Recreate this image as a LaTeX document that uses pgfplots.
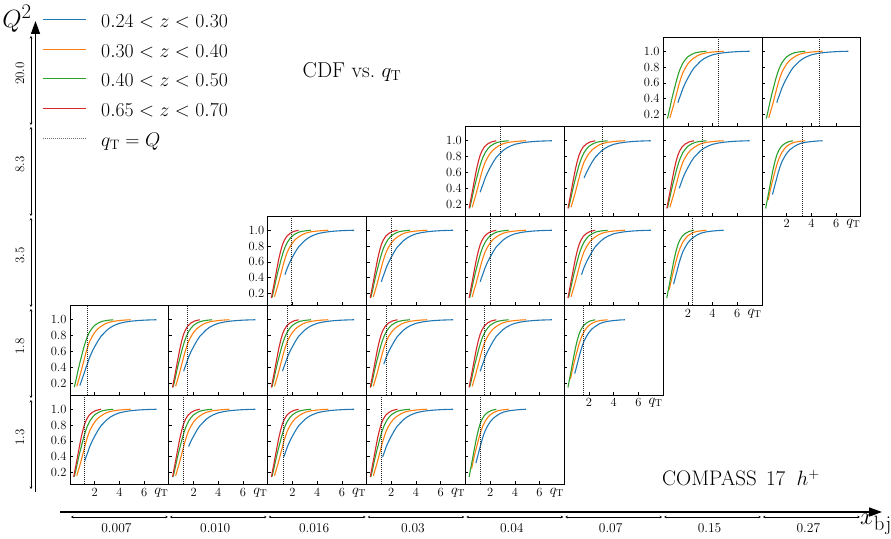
\documentclass[border=0pt]{standalone}
\usepackage{pgfplots}
\usepackage{pgfplotstable}
\pgfplotsset{compat=1.18}
\usetikzlibrary{arrows.meta}

\definecolor{cblue}{HTML}{1F77B4}
\definecolor{corange}{HTML}{FF7F0E}
\definecolor{cgreen}{HTML}{2CA02C}
\definecolor{cred}{HTML}{D62728}

% CDF curves (one shape per z bin)
\pgfplotstableread{
x y
0.60 0.10
0.80 0.17
1.00 0.26
1.20 0.35
1.30 0.40
1.40 0.44
1.60 0.53
1.80 0.60
2.00 0.66
2.25 0.73
2.50 0.79
2.75 0.83
3.00 0.87
3.30 0.905
3.60 0.93
4.00 0.955
4.50 0.972
5.00 0.983
5.50 0.99
6.00 0.995
6.50 0.998
7.00 1.00
}\tblB
\pgfplotstableread{
x y
0.40 0.09
0.55 0.16
0.70 0.24
0.85 0.32
1.00 0.41
1.15 0.50
1.30 0.59
1.45 0.665
1.60 0.73
1.80 0.79
2.00 0.84
2.25 0.885
2.50 0.915
2.80 0.945
3.10 0.965
3.50 0.98
4.00 0.99
4.50 0.997
4.90 1.00
}\tblO
\pgfplotstableread{
x y
0.25 0.09
0.35 0.15
0.50 0.25
0.65 0.36
0.80 0.46
0.95 0.55
1.10 0.64
1.25 0.72
1.40 0.785
1.60 0.85
1.80 0.895
2.00 0.93
2.30 0.96
2.60 0.98
3.00 0.992
3.50 1.00
}\tblG
\pgfplotstableread{
x y
0.22 0.09
0.30 0.145
0.40 0.23
0.50 0.31
0.62 0.41
0.75 0.52
0.90 0.64
1.05 0.74
1.20 0.82
1.35 0.875
1.55 0.925
1.80 0.96
2.10 0.985
2.50 1.00
}\tblR

\pgfplotsset{
  panel/.style={
    width=98.85pt, height=89.5pt, scale only axis, anchor=south west,
    xmin=0, xmax=8, ymin=0.05, ymax=1.18,
    xtick={2,4,6}, ytick={0.2,0.4,0.6,0.8,1.0},
    xticklabels={}, yticklabels={},
    tick align=inside, xtick pos=bottom, ytick pos=left,
    major tick length=3pt,
    tick style={black, line width=0.6pt},
    axis line style={line width=0.9pt},
    tick label style={font=\fontsize{12.5}{12.5}\selectfont},
    every axis plot/.append style={line width=1.1pt},
  },
  showx/.style={xticklabels={2,4,6},
    extra x ticks={7.4},
    extra x tick labels={{\fontsize{14.4}{14.4}\selectfont$q_{\mathrm{T}}$}},
    extra x tick style={major tick length=0pt}},
  showy/.style={yticklabels={0.2,0.4,0.6,0.8,1.0}},
  qline/.style={black!85, line width=0.8pt, dash pattern=on 1pt off 1pt},
}
\tikzset{legtext/.style={anchor=base west, inner sep=0pt,
    font=\fontsize{17.28}{17.28}\selectfont, scale=1.14}}

% all four z bins
\newcommand{\curvesF}[1]{%
  \addplot[cblue, restrict x to domain=#1:10] table {\tblB};
  \addplot[corange, restrict x to domain=0.5:10] table {\tblO};
  \addplot[cgreen, restrict x to domain=0.3:10] table {\tblG};
  \addplot[cred, restrict x to domain=0.28:10] table {\tblR};
}
% no red bin
\newcommand{\curvesN}[1]{%
  \addplot[cblue, restrict x to domain=#1:10] table {\tblB};
  \addplot[corange, restrict x to domain=0.5:10] table {\tblO};
  \addplot[cgreen, restrict x to domain=0.3:10] table {\tblG};
}
% three bins, shorter tails
\newcommand{\curvesS}[1]{%
  \addplot[cblue, restrict x to domain=#1:10] table {\tblO};
  \addplot[corange, restrict x to domain=0.45:10] table {\tblG};
  \addplot[cgreen, restrict x to domain=0.28:10] table {\tblR};
}

\newcommand{\panel}[5]{%
  \begin{axis}[panel, at={({(70+98.85*#1)*1pt},{(53.5+89.5*#2)*1pt})}, #3]
  #4
  \addplot[qline] coordinates {(#5,0.05) (#5,1.18)};
  \end{axis}}

\begin{document}
\begin{tikzpicture}
\path[use as bounding box] (0,0) rectangle (891pt,538pt);

% Q^2 = 1.3
\panel{0}{0}{showx, showy}{\curvesF{1.2}}{1.14}
\panel{1}{0}{showx}{\curvesF{1.5}}{1.19}
\panel{2}{0}{showx}{\curvesF{1.3}}{1.25}
\panel{3}{0}{showx}{\curvesF{1.3}}{1.18}
\panel{4}{0}{showx}{\curvesS{0.85}}{1.2}
% Q^2 = 1.8
\panel{0}{1}{showy}{\curvesN{0.7}}{1.44}
\panel{1}{1}{}{\curvesF{1.2}}{1.49}
\panel{2}{1}{}{\curvesF{1.2}}{1.6}
\panel{3}{1}{}{\curvesF{1.4}}{1.6}
\panel{4}{1}{}{\curvesF{1.2}}{1.55}
\panel{5}{1}{showx}{\curvesS{0.85}}{1.57}
% Q^2 = 3.5
\panel{2}{2}{showy}{\curvesF{1.4}}{1.95}
\panel{3}{2}{}{\curvesF{1.2}}{2.05}
\panel{4}{2}{}{\curvesF{1.2}}{2.05}
\panel{5}{2}{}{\curvesF{1.4}}{2.17}
\panel{6}{2}{showx}{\curvesS{0.85}}{2.33}
% Q^2 = 8.3
\panel{4}{3}{showy}{\curvesF{1.2}}{2.85}
\panel{5}{3}{}{\curvesF{1.6}}{3.06}
\panel{6}{3}{}{\curvesF{1.3}}{3.14}
\panel{7}{3}{showx}{\curvesS{0.85}}{3.28}
% Q^2 = 20.0
\panel{6}{4}{showy}{\curvesN{1.2}}{4.45}
\panel{7}{4}{}{\curvesN{1.2}}{4.66}

% legend
\draw[cblue, line width=1.1pt] (42.7pt,518.7pt) -- (85.7pt,518.7pt);
\node[legtext] at (101pt,510.7pt) {$0.24 < z < 0.30$};
\draw[corange, line width=1.1pt] (42.7pt,488.9pt) -- (85.7pt,488.9pt);
\node[legtext] at (101pt,480.9pt) {$0.30 < z < 0.40$};
\draw[cgreen, line width=1.1pt] (42.7pt,459.2pt) -- (85.7pt,459.2pt);
\node[legtext] at (101pt,451.2pt) {$0.40 < z < 0.50$};
\draw[cred, line width=1.1pt] (42.7pt,429.4pt) -- (85.7pt,429.4pt);
\node[legtext] at (101pt,421.4pt) {$0.65 < z < 0.70$};
\draw[black!55, line width=0.9pt, dash pattern=on 1pt off 1pt] (42.7pt,399.7pt) -- (85.7pt,399.7pt);
\node[legtext] at (101pt,391.7pt) {$q_{\mathrm{T}} = Q$};

% Q^2 axis with bins
\draw[line width=1.6pt, -{Triangle[length=13pt,width=9pt]}] (35.5pt,46pt) -- (35.5pt,517pt);
\node[font=\fontsize{24.88}{24.88}\selectfont] at (17pt,519pt) {$Q^2$};
\foreach \r/\lab in {0/1.3,1/1.8,2/3.5,3/8.3,4/20.0} {
  \draw[line width=0.7pt, {Stealth[length=2.5pt,width=2.5pt]}-{Stealth[length=2.5pt,width=2.5pt]}]
    (31pt,{(49+91*\r)*1pt}) -- (31pt,{(47+91*(\r+1))*1pt});
  \node[rotate=90, font=\fontsize{13}{13}\selectfont] at (20pt,{(48+91*\r+52.5)*1pt}) {\lab};
}

% x_bj axis with bins
\draw[line width=1.6pt, -{Triangle[length=13pt,width=9pt]}] (60pt,26pt) -- (882pt,26pt);
\foreach \c/\lab in {0/0.007,1/0.010,2/0.016,3/0.03,4/0.04,5/0.07,6/0.15,7/0.27} {
  \draw[line width=0.7pt, {Stealth[length=2.5pt,width=2.5pt]}-{Stealth[length=2.5pt,width=2.5pt]}]
    ({(71+98.85*\c)*1pt},21pt) -- ({(69+98.85*(\c+1))*1pt},21pt);
  \node[font=\fontsize{13.5}{13.5}\selectfont] at ({(70+98.85*(\c+0.5)-3)*1pt},10pt) {\lab};
}
\node[font=\fontsize{24.88}{24.88}\selectfont] at (876pt,14pt) {$x_{\mathrm{bj}}$};

\node[font=\fontsize{21.5}{21.5}\selectfont] at (352pt,466pt) {CDF vs.\ $q_{\mathrm{T}}$};
\node[font=\fontsize{21}{21}\selectfont, anchor=west, inner sep=0pt] at (662pt,60pt) {COMPASS\ \hspace{3pt}17\ \hspace{5pt}$h^{+}$};
\end{tikzpicture}
\end{document}
